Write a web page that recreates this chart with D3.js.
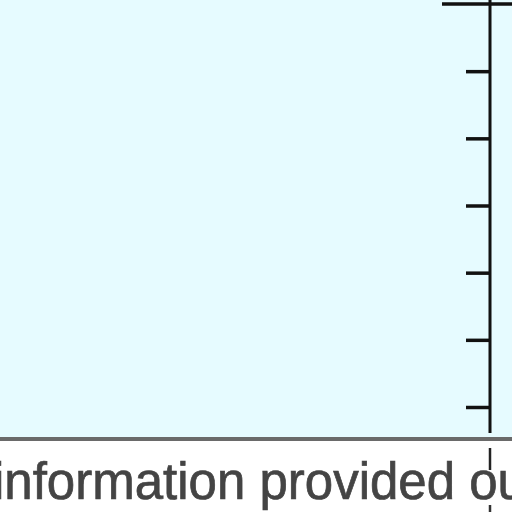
<!DOCTYPE html>
<html>
<head>
<meta charset="utf-8">
<script src="https://cdn.jsdelivr.net/npm/d3@7"></script>
<style>
  html, body { margin: 0; padding: 0; background: #ffffff; }
  svg { display: block; }
</style>
</head>
<body>
<script>
// ---- data ----
const tickValues = [0, 1, 2, 3, 4, 5, 6];
const yDomain = [0, 6];
const captionText = "information provided ou";

// ---- layout ----
const W = 512, H = 512;
const axisX = 490;
const plotBottom = 439;

const svg = d3.select("body").append("svg")
  .attr("width", W).attr("height", H);

// plot background
svg.append("rect")
  .attr("x", 0).attr("y", 0)
  .attr("width", W).attr("height", plotBottom)
  .attr("fill", "#e6fbff");

const y = d3.scaleLinear().domain(yDomain).range([407, 4]);

// axis with ticks pointing left
const axis = d3.axisLeft(y)
  .tickValues(tickValues.slice(0, -1))
  .tickSize(24)
  .tickFormat("");

const gAxis = svg.append("g")
  .attr("transform", `translate(${axisX},0)`)
  .call(axis);
gAxis.select(".domain").remove();
gAxis.selectAll(".tick line")
  .attr("stroke", "#111")
  .attr("stroke-width", 3.5);

// vertical axis line
svg.append("line")
  .attr("x1", axisX).attr("x2", axisX)
  .attr("y1", 0).attr("y2", plotBottom - 6)
  .attr("stroke", "#111").attr("stroke-width", 3);

// top tick (longer, crossing the axis)
svg.append("line")
  .attr("x1", 442).attr("x2", W)
  .attr("y1", y(tickValues[tickValues.length - 1]))
  .attr("y2", y(tickValues[tickValues.length - 1]))
  .attr("stroke", "#111").attr("stroke-width", 3.5);

// bottom baseline
svg.append("line")
  .attr("x1", 0).attr("x2", W)
  .attr("y1", plotBottom).attr("y2", plotBottom)
  .attr("stroke", "#6a6a6a").attr("stroke-width", 4);

// axis continuation below baseline
svg.append("line")
  .attr("x1", axisX).attr("x2", axisX)
  .attr("y1", 448).attr("y2", 470)
  .attr("stroke", "#222").attr("stroke-width", 2.5);
svg.append("line")
  .attr("x1", axisX).attr("x2", axisX)
  .attr("y1", 505).attr("y2", 512)
  .attr("stroke", "#333").attr("stroke-width", 2.5);

// caption (cut off at the right edge, as in the reference)
svg.append("text")
  .attr("x", -7)
  .attr("y", 499)
  .attr("font-family", "Liberation Sans, Arial, sans-serif")
  .attr("font-size", 51)
  .attr("fill", "#444")
  .attr("stroke", "#444")
  .attr("stroke-width", 0.7)
  .text(captionText);
</script>
</body>
</html>
